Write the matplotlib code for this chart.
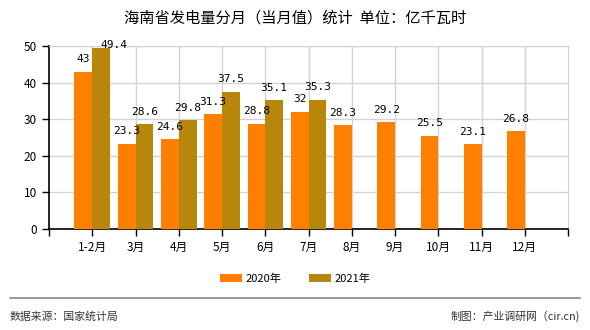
import matplotlib
matplotlib.use("Agg")
import matplotlib.pyplot as plt
import numpy as np

plt.rcParams['font.family'] = ['Noto Sans CJK SC', 'DejaVu Sans']

months = ['1-2月', '3月', '4月', '5月', '6月', '7月', '8月', '9月', '10月', '11月', '12月']
v2020 = [43, 23.3, 24.6, 31.3, 28.8, 32, 28.3, 29.2, 25.5, 23.1, 26.8]
v2021 = [49.4, 28.6, 29.8, 37.5, 35.1, 35.3]
c2020 = '#FF8000'
c2021 = '#B8860B'

fig = plt.figure(figsize=(5.9, 3.3), dpi=100)
ax = fig.add_axes([0.083, 0.306, 0.88, 0.555])

x = np.arange(len(months))
w = 0.41
ax.bar(x - w / 2, v2020, w, color=c2020, label='2020年', zorder=3)
x21 = x[:len(v2021)]
ax.bar(x21 + w / 2, v2021, w, color=c2021, label='2021年', zorder=3)

for xi, v in zip(x, v2020):
    ax.text(xi - w / 2, v + 2, f'{v:g}', ha='center', va='bottom', fontsize=8,
            family='DejaVu Sans Mono', zorder=4)
for xi, v in zip(x21, v2021):
    dx = 0.3 if v > 48 else 0
    ax.text(xi + w / 2 + dx, v + 2 if v < 48 else v - 0.5, f'{v:g}', ha='center',
            va='bottom', fontsize=8, family='DejaVu Sans Mono', zorder=4)

ax.set_xlim(-1, 11)
ax.set_ylim(0, 50)
ax.set_xticks(x)
ax.set_xticklabels(months, fontsize=8.5)
ax.set_xticks([-1, 11], minor=True)
ax.set_yticks([0, 10, 20, 30, 40, 50])
ax.tick_params(axis='y', labelsize=8.5, length=5, width=1)
ax.tick_params(axis='x', which='both', length=5, width=1)
ax.grid(True, color='#d3d3d3', lw=1, zorder=0)
ax.spines['top'].set_color('#d3d3d3')
ax.spines['right'].set_color('#d3d3d3')
ax.spines['left'].set_linewidth(1.2)
ax.spines['bottom'].set_linewidth(1.2)

fig.text(0.5, 0.945, '海南省发电量分月（当月值）统计  单位：亿千瓦时', ha='center',
         va='center', fontsize=11)
fig.legend(loc='center', bbox_to_anchor=(0.5, 0.155), ncol=2, frameon=False,
           fontsize=8, handlelength=2.0, handleheight=0.8, columnspacing=2.5,
           handletextpad=0.3)

line = plt.Line2D([0.017, 0.983], [0.097, 0.097], transform=fig.transFigure,
                  color='#888888', lw=1.2)
fig.add_artist(line)
fig.text(0.017, 0.04, '数据来源：国家统计局', ha='left', va='center', fontsize=7.8,
         color='#333333')
fig.text(0.983, 0.04, '制图：产业调研网（cir.cn)', ha='right', va='center',
         fontsize=7.8, color='#333333')

fig.savefig('out.png', dpi=100)
